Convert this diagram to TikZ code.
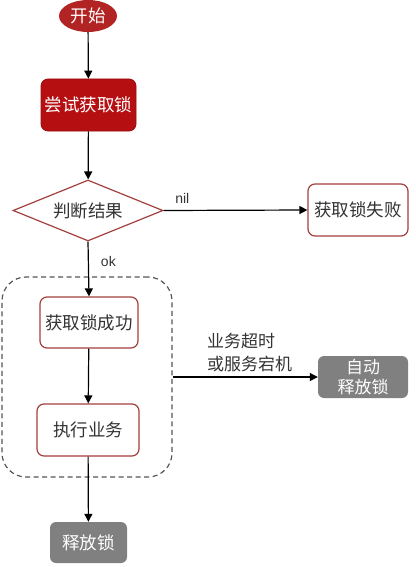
\documentclass[tikz,border=0pt]{standalone}
\usepackage{fontspec}
\setmainfont{Noto Sans CJK SC}
\newfontfamily\latinfont{Liberation Sans}
\usetikzlibrary{arrows.meta,shapes.geometric}
\definecolor{startred}{HTML}{B22424}
\definecolor{boxred}{HTML}{B50F12}
\definecolor{edgered}{HTML}{A3403E}
\definecolor{txt}{HTML}{333333}
\definecolor{greyfill}{HTML}{808080}
\definecolor{dashgrey}{HTML}{555555}
\tikzset{
  every node/.style={font=\fontsize{17.5}{20}\selectfont, text=txt, inner sep=0pt},
  redbox/.style={draw=edgered, line width=1.2pt, rounded corners=7pt, fill=white},
  darkbox/.style={draw=boxred!85!black, line width=0.8pt, rounded corners=7pt, fill=boxred, text=white},
  greybox/.style={fill=greyfill, rounded corners=6pt, text=white, align=center},
  arr/.style={-{Triangle[length=8pt,width=8pt]}, line width=1.2pt, black},
  lbl/.style={font=\latinfont\fontsize{14}{16}\selectfont, text=txt},
}
\begin{document}
\begin{tikzpicture}[x=1pt,y=-1pt]
\useasboundingbox (0,0) rectangle (415,567);
\node[draw=dashgrey, dashed, dash pattern=on 5pt off 3.5pt, line width=1.2pt, rounded corners=24pt, minimum width=170pt, minimum height=200pt] (grp) at (87,377) {};
\node[ellipse, fill=startred, text=white, minimum width=58pt, minimum height=32pt] (start) at (88,16) {开始};
\node[darkbox, minimum width=95pt, minimum height=52pt] (try) at (88.5,105) {尝试获取锁};
\node[diamond, aspect=2.46, draw=edgered, line width=1.2pt, fill=white, minimum width=150pt, minimum height=61pt] (judge) at (88,210.5) {判断结果};
\node[redbox, minimum width=100pt, minimum height=52pt] (fail) at (358,210) {获取锁失败};
\node[redbox, minimum width=98pt, minimum height=51pt] (succ) at (89,322.5) {获取锁成功};
\node[redbox, minimum width=102pt, minimum height=52pt] (exec) at (88,430) {执行业务};
\node[greybox, minimum width=77pt, minimum height=41pt] (rel) at (88.5,542.5) {释放锁};
\node[greybox, minimum width=90pt, minimum height=42pt, font=\fontsize{17}{20}\selectfont] (auto) at (363,377) {自动\\释放锁};
\draw[arr] (start) -- (try);
\draw[arr] (try) -- (judge);
\draw[arr] (judge.east) -- node[lbl, above, pos=0.13, yshift=6pt] (nil) {nil} (fail.west);
\draw[arr] (judge.south) -- node[lbl, right, pos=0.37, xshift=12pt] (ok) {ok} (succ.north);
\draw[arr] (succ) -- (exec);
\draw[arr] (exec) -- (rel);
\draw[arr] (grp.east) -- (auto.west);
\node[anchor=west, align=left, font=\fontsize{17}{23}\selectfont] (why) at (207,353) {业务超时\\或服务宕机};
\end{tikzpicture}
\end{document}
